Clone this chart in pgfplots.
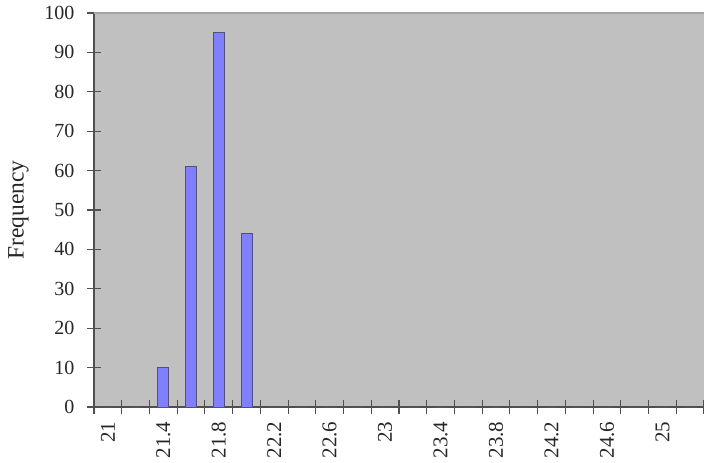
\documentclass[border=0pt]{standalone}
\usepackage{fontspec}
\setmainfont{Liberation Serif}
\usepackage{pgfplots}
\usepackage{pgfplotstable}
\pgfplotsset{compat=1.18}
\definecolor{plotbg}{RGB}{192,192,192}
\definecolor{barfill}{RGB}{128,128,255}
\definecolor{barline}{RGB}{80,80,120}
\definecolor{axisgray}{RGB}{80,80,80}
\definecolor{topgray}{RGB}{165,165,165}
\pgfplotstableread{
x y
0 0
1 0
2 10
3 61
4 95
5 44
6 0
7 0
8 0
9 0
10 0
11 0
12 0
13 0
14 0
15 0
16 0
17 0
18 0
19 0
20 0
21 0
}\freqdata
\begin{document}
\begin{tikzpicture}
\useasboundingbox (-94pt,-56pt) rectangle (610pt,407pt);
\begin{axis}[
  at={(0pt,0pt)}, anchor=south west,
  width=610pt, height=394pt, scale only axis,
  axis background/.style={fill=plotbg},
  axis x line*=bottom, axis y line*=left,
  axis line style={-, draw=axisgray, line width=1.1pt},
  xmin=-0.5, xmax=21.5, ymin=0, ymax=100,
  ytick={0,10,20,30,40,50,60,70,80,90,100},
  minor ytick={0,10,20,30,40,50,60,70,80,90,100},
  xtick={0,2,4,6,8,10,12,14,16,18,20},
  xticklabels={21,21.4,21.8,22.2,22.6,23,23.4,23.8,24.2,24.6,25},
  minor xtick={-0.5,0.5,1.5,2.5,3.5,4.5,5.5,6.5,7.5,8.5,9.5,10.5,11.5,12.5,13.5,14.5,15.5,16.5,17.5,18.5,19.5,20.5,21.5},
  tick align=center, major tick length=0pt, minor tick length=14pt,
  tick style={draw=axisgray, line width=1.1pt},
  /pgf/number format/assume math mode=true,
  yticklabel style={font=\fontsize{20}{24}\selectfont, text=black!85, anchor=east, xshift=-16pt},
  xticklabel style={font=\fontsize{21}{24}\selectfont, text=black!85, yshift=-11pt, rotate=90, anchor=east},
  ylabel={Frequency},
  ylabel style={font=\fontsize{23.5}{26}\selectfont, text=black!85, at={(axis description cs:-0.124,0.5)}, anchor=center},
  clip=false,
]
\addplot[ybar, bar width=11pt, fill=barfill, draw=barline, line width=0.8pt] table[x=x, y=y] {\freqdata};
\draw[topgray, line width=1.2pt] (rel axis cs:0,1) -- (rel axis cs:1,1);
\end{axis}
\end{tikzpicture}
\end{document}
